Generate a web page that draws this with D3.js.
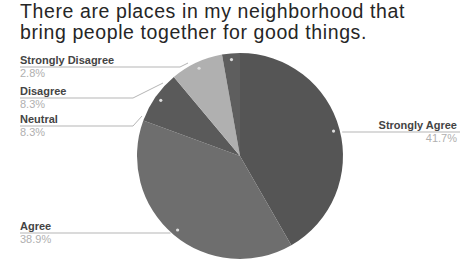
<!doctype html>
<html>
<head>
	<style>
body { margin: 0; background: #fff; }
svg { font-family: "Liberation Sans", Arial, sans-serif; }
.title { fill: #262626; font-size: 19.5px; letter-spacing: 0.6px; }
.lname { fill: #444; font-size: 11px; font-weight: bold; }
.lval { fill: #b0b0b0; font-size: 11px; }
.conn { fill: none; stroke: #b5b5b5; stroke-width: 1px; }
	</style>
</head>
<body>

	<div id="root"></div>

	<script src="https://d3js.org/d3.v7.min.js"></script>
	<script>

	var titleLines = ['There are places in my neighborhood that', 'bring people together for good things.'];
	var categories = ['Strongly Agree', 'Agree', 'Neutral', 'Disagree', 'Strongly Disagree'];
	var values = [41.7, 38.9, 8.3, 8.3, 2.8];
	var colours = ['#555555', '#6e6e6e', '#5a5a5a', '#b0b0b0', '#5e5e5e'];

	var width = 464, height = 264;
	var cx = 240, cy = 156, r = 103;

	var svg = d3.select('#root').append('svg')
		.attr('width', width)
		.attr('height', height);

	svg.selectAll('.title')
		.data(titleLines)
		.enter().append('text')
			.attr('class', 'title')
			.attr('x', 20)
			.attr('y', function(d, i){ return 18 + i * 21; })
			.text(function(d){ return d; });

	var pie = d3.pie().sort(null).value(function(d){ return d.value; });
	var arcs = pie(categories.map(function(c, i){ return { name: c, value: values[i] }; }));

	var arc = d3.arc().innerRadius(0).outerRadius(r);

	var g = svg.append('g').attr('transform', 'translate(' + cx + ',' + cy + ')');

	g.selectAll('path')
		.data(arcs)
		.enter().append('path')
			.attr('d', arc)
			.attr('fill', function(d, i){ return colours[i]; });

	// label placement, hand tuned like the original
	var labels = [
		{ side: 'right', y: 132, x: 457 },
		{ side: 'left', y: 233, x: 20 },
		{ side: 'left', y: 126, x: 20, bend: [133, 142, 116] },
		{ side: 'left', y: 98, x: 20, bend: [133, 163, 83] },
		{ side: 'left', y: 67, x: 20, bend: [180, 188, 63] }
	];

	function inner(d, k){
		var a = (d.startAngle + d.endAngle) / 2;
		return [cx + Math.sin(a) * r * k, cy - Math.cos(a) * r * k];
	}

	var lab = svg.append('g');

	arcs.forEach(function(d, i){
		var L = labels[i];
		var pts;
		if (L.side === 'right') {
			var ex = cx + Math.sqrt(r * r - (L.y - cy) * (L.y - cy)) + 2;
			pts = [[ex, L.y], [L.x + 3, L.y]];
		} else if (L.bend) {
			pts = [[L.x, L.y], [L.bend[0], L.y], [L.bend[1], L.bend[2]]];
		} else {
			var ex2 = cx - Math.sqrt(r * r - (L.y - cy) * (L.y - cy)) - 1;
			pts = [[L.x, L.y], [ex2, L.y]];
		}
		lab.append('path')
			.attr('class', 'conn')
			.attr('d', d3.line()(pts));

		var p = inner(d, 0.94);
		lab.append('circle')
			.attr('cx', p[0]).attr('cy', p[1]).attr('r', 1.6)
			.attr('fill', '#ddd');

		var anchor = L.side === 'right' ? 'end' : 'start';
		lab.append('text')
			.attr('class', 'lname')
			.attr('x', L.x).attr('y', L.y - 3)
			.attr('text-anchor', anchor)
			.text(d.data.name);
		lab.append('text')
			.attr('class', 'lval')
			.attr('x', L.x).attr('y', L.y + 10)
			.attr('text-anchor', anchor)
			.text(d.data.value.toFixed(1) + '%');
	});

	</script>
</body>
</html>
